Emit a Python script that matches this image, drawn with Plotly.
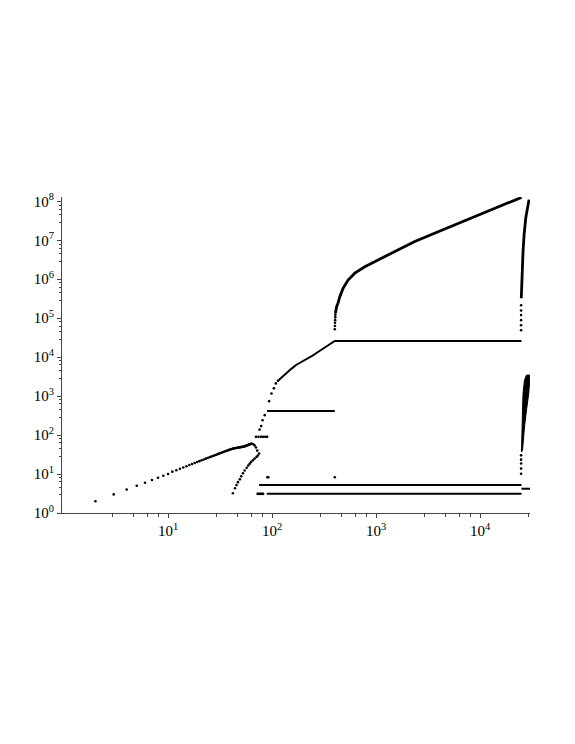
import plotly.graph_objects as go

# y ~ n branch (integer n)
n_x = [2, 3, 4, 5, 6, 7, 8, 9, 10, 11, 12, 13, 14, 15, 16, 17, 18, 19, 20,
       21, 22, 23, 24, 25, 26, 27, 28, 29, 30, 31, 32, 33, 34, 35, 36, 37,
       38, 39, 40, 41, 42, 43, 44, 45, 46, 47, 48, 49, 50, 51, 52, 53, 54,
       55, 56, 57, 58, 59, 60, 61, 62, 63, 64, 66, 68, 70, 72]
n_y = [2, 3, 4, 5, 6, 7, 8, 9, 10, 11.5, 12.5, 13.6, 14.7, 15.8, 17, 18,
       19.2, 20.3, 21.4, 22.5, 23.6, 24.8, 25.9, 27, 28, 29, 30.2, 31.3, 32.4,
       33.5, 34.6, 35.7, 36.8, 37.9, 39, 40, 41, 42, 43, 44, 44.8, 45.5, 46,
       46.5, 47, 47.5, 48, 48.5, 49, 49.5, 50, 50.5, 51, 52, 53, 54, 55, 56,
       57, 58, 59, 59.5, 60, 58, 54, 48, 40]

# lower branch climbing from 3 to ~33
low_x = [42, 44, 45.5, 47, 49, 50.5, 52.5, 54.5, 57, 59, 61, 63, 65.5, 68,
         71, 73, 75]
low_y = [3.2, 4.3, 5.2, 6.2, 7.3, 8.8, 10.5, 12.3, 14.5, 16.5, 18.5, 20.5,
         22.5, 25, 27.5, 30, 33.6]

# short cluster near 90
c90_x = [70, 74, 78, 82, 86, 89.5]
c90_y = [90, 90, 90, 90, 90, 90]

# steep rise, sparse part
rise_x = [75.8, 78.5, 81, 85, 93.6, 98.6, 104, 108.6, 114]
rise_y = [138, 170, 240, 325, 743, 1170, 1580, 2120, 2470]

# rise, dense part, then plateau
curve_x = [114, 120, 128, 137, 153, 170, 190, 214, 245, 288, 340, 401, 25000]
curve_y = [2470, 2800, 3400, 4000, 5000, 6300, 7500, 8700, 11000, 14600,
           19500, 26000, 26000]

# plateau near 400
p400_x = [89.5, 401]
p400_y = [415, 415]

# isolated points near 8
p8_x = [90, 92, 401]
p8_y = [8.3, 8.3, 8.3]

# long flat rows near 5 and 3
row5_x = [75, 25000]
row5_y = [5.2, 5.2]
row3_dots_x = [72.6, 75, 77.5, 80, 82]
row3_dots_y = [3.1, 3.1, 3.1, 3.1, 3.1]
row3_x = [89, 25000]
row3_y = [3.1, 3.1]
row4_x = [25000, 30500]
row4_y = [4.2, 4.2]

# upper branch
up_dots_x = [401, 402, 403, 404, 405, 406, 407]
up_dots_y = [51900, 63100, 75900, 89100, 105000, 120000, 138000]
up_x = [407, 412, 418, 430, 448, 482, 538, 624, 779, 1045, 1406, 1888,
        2356, 3280, 5000, 7000, 10000, 15000, 25000]
up_y = [138000, 178000, 200000, 240000, 357000, 589000, 955000, 1430000,
        2090000, 3130000, 4660000, 6890000, 9270000, 13500000, 21400000,
        31600000, 46800000, 72400000, 126000000]

# right edge clusters
top_dots_x = [24800, 24800, 24800, 24800, 24800, 24800]
top_dots_y = [49000, 66000, 89000, 120000, 158000, 214000]
top_x = [24900, 25100, 25350, 25880, 26490, 27480, 28580, 29580]
top_y = [324000, 708000, 1900000, 5130000, 13800000, 37200000, 66800000,
         110000000]

bot_dots_x = [24800, 24800, 24800, 24800, 24800]
bot_dots_y = [10.2, 13.8, 18.6, 23.4, 30.2]
bot_x = [25000, 25180, 25590, 25880, 26730, 27930, 30000, 30000, 29380,
         27930, 26730, 25590, 25000]
bot_y = [37, 162, 437, 1175, 2570, 3470, 3470, 2570, 1175, 437, 162, 40.7, 37]

x_ticks = [10, 100, 1000, 10000]
x_text = ["10<sup>1</sup>", "10<sup>2</sup>", "10<sup>3</sup>", "10<sup>4</sup>"]
y_ticks = [10 ** k for k in range(9)]
y_text = ["10<sup>%d</sup>" % k for k in range(9)]
minor_steps = [2.9, 4.6, 6.3, 8.0]

BLACK = "#000000"

fig = go.Figure()


def dots(x, y, size=2.6):
    fig.add_trace(go.Scatter(x=x, y=y, mode="markers",
                             marker=dict(color=BLACK, size=size, line=dict(width=0)),
                             hoverinfo="skip"))


def stroke(x, y, width=2):
    fig.add_trace(go.Scatter(x=x, y=y, mode="lines",
                             line=dict(color=BLACK, width=width),
                             hoverinfo="skip"))


dots(n_x, n_y)
dots(low_x, low_y)
dots(c90_x, c90_y)
dots(rise_x, rise_y)
stroke(curve_x, curve_y, 2)
stroke(p400_x, p400_y, 2)
dots(p8_x, p8_y)
stroke(row5_x, row5_y, 2)
dots(row3_dots_x, row3_dots_y)
stroke(row3_x, row3_y, 2)
stroke(row4_x, row4_y, 2)
dots(up_dots_x, up_dots_y)
stroke(up_x, up_y, 2.8)
dots(top_dots_x, top_dots_y)
stroke(top_x, top_y, 2.8)
dots(bot_dots_x, bot_dots_y)
fig.add_trace(go.Scatter(x=bot_x, y=bot_y, mode="lines", fill="toself",
                         fillcolor=BLACK, line=dict(color=BLACK, width=1),
                         hoverinfo="skip"))

axis_common = dict(
    type="log", showgrid=False, zeroline=False, showline=True,
    linecolor="#444444", linewidth=1, ticks="outside", ticklen=4,
    tickwidth=1, tickcolor="#444444", automargin=False,
    tickfont=dict(family="Liberation Serif", size=15, color=BLACK),
)

# the page body adds an 8px offset, so the figure is 8px smaller
fig.update_layout(
    width=567, height=736,
    margin=dict(l=54, r=45, t=189, b=231),
    paper_bgcolor="white", plot_bgcolor="white",
    showlegend=False,
    xaxis=dict(range=[-0.02, 4.48], tickvals=x_ticks, ticktext=x_text,
               minor=dict(tickvals=[m * 10 ** k for k in range(5) for m in minor_steps],
                          ticks="outside", ticklen=2.5, tickcolor="#444444"),
               **axis_common),
    yaxis=dict(range=[0, 8.11], tickvals=y_ticks, ticktext=y_text,
               minor=dict(tickvals=[m * 10 ** k for k in range(8) for m in minor_steps],
                          ticks="outside", ticklen=2.5, tickcolor="#444444"),
               **axis_common),
)

fig.write_html("out.html")
